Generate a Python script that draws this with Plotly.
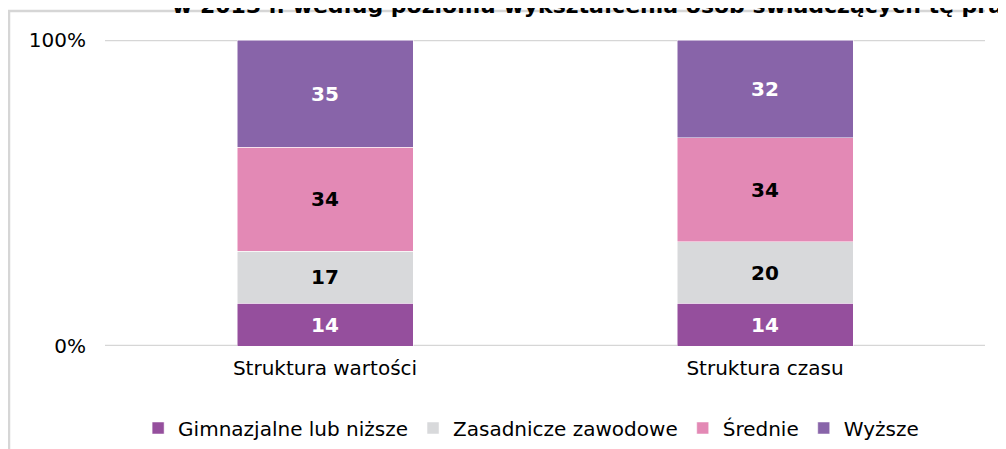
import plotly.graph_objects as go

categories = ["Struktura wartości", "Struktura czasu"]
series_names = ["Gimnazjalne lub niższe", "Zasadnicze zawodowe", "Średnie", "Wyższe"]
gimnazjalne = [14, 14]
zasadnicze = [17, 20]
srednie = [34, 34]
wyzsze = [35, 32]
series_values = [gimnazjalne, zasadnicze, srednie, wyzsze]
colors = ["#954F9D", "#D8D9DB", "#E389B5", "#8864A9"]
label_colors = ["white", "black", "black", "white"]
y_tickvals = [0, 100]
y_ticktext = ["0%", "100%"]
title_text = "w 2013 r. według poziomu wykształcenia osób świadczących tę pracę"

W, H = 1006, 449
OFF = 8  # page body margin
L, R, T, B = 97, 29, 32, 111
pw, ph = W - L - R, H - T - B

def px_x(p):
    return (p - OFF - L) / pw

def px_y(p):
    return (H - B - (p - OFF)) / ph

fig = go.Figure()
for name, vals, col, lc in zip(series_names, series_values, colors, label_colors):
    fig.add_trace(go.Bar(
        x=categories, y=vals, name=name,
        marker=dict(color=col, line=dict(color="white", width=0.5)),
        text=vals, textposition="inside", insidetextanchor="middle",
        textfont=dict(color=lc, size=20, family="DejaVu Sans", weight="bold"),
        constraintext="none",
        width=0.4,
    ))

for v in y_tickvals:
    fig.add_shape(type="line", xref="paper", yref="y", x0=0, x1=1, y0=v, y1=v,
                  line=dict(color="#D6D6D6", width=2.5), layer="below")

fig.update_layout(
    barmode="stack",
    width=W, height=H,
    margin=dict(l=L, r=R, t=T, b=B),
    paper_bgcolor="white", plot_bgcolor="white",
    font=dict(family="DejaVu Sans", size=20, color="#000000"),
    showlegend=True,
    legend=dict(orientation="h", xref="container", yref="container",
                x=0.52, xanchor="center", y=(H - (428 - OFF)) / H, yanchor="middle",
                font=dict(size=20), itemwidth=30, traceorder="normal"),
    xaxis=dict(range=[-0.5, 1.5], showgrid=False, zeroline=False,
               showline=False, ticks="", ticklabelstandoff=8),
    yaxis=dict(range=[0, 100], tickvals=y_tickvals, ticktext=y_ticktext,
               showgrid=False, zeroline=False, showline=False, ticks="",
               ticklabelstandoff=18),
    uniformtext=dict(mode=False),
)

fig.add_annotation(
    text="<b>" + title_text + "</b>", xref="paper", yref="paper",
    x=px_x(170), y=px_y(20), xanchor="left", yanchor="bottom",
    showarrow=False, font=dict(size=22, family="DejaVu Sans", color="black"),
)

fig.add_shape(type="line", xref="paper", yref="paper",
              x0=px_x(8), x1=px_x(985), y0=px_y(11), y1=px_y(11),
              line=dict(color="#D6D6D6", width=2.5), layer="below")
fig.add_shape(type="line", xref="paper", yref="paper",
              x0=px_x(9), x1=px_x(9), y0=px_y(11), y1=px_y(460),
              line=dict(color="#D6D6D6", width=2.5), layer="below")

fig.write_html("out.html")
